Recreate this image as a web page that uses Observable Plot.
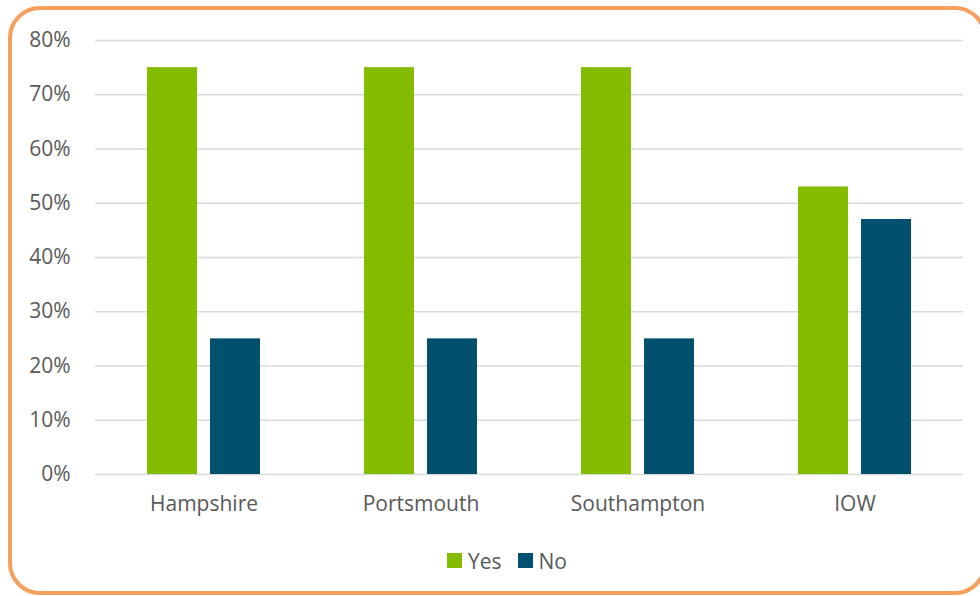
<!DOCTYPE html>
<html>
<head>
<meta charset="utf-8">
<script src="https://cdn.jsdelivr.net/npm/d3@7"></script>
<script src="https://cdn.jsdelivr.net/npm/@observablehq/plot@0.6"></script>
<style>
  html, body { margin: 0; padding: 0; background: #fff; overflow: hidden; }
  #wrap { position: relative; width: 980px; height: 596px; font-family: "Open Sans", sans-serif; }
  #border { position: absolute; left: 8px; top: 6px; width: 979px; height: 589px; box-sizing: border-box;
            border: 4px solid #F79F5C; border-radius: 32px; pointer-events: none; }
  #legend { position: absolute; left: 447px; top: 544px; }
  .lg-swatch > svg { margin-right: 6px !important; }
  .lg-swatch { margin-right: 16px !important; }
</style>
</head>
<body>
<div id="wrap"><div id="chart"></div><div id="legend"></div><div id="border"></div></div>
<script>
const categories = ["Hampshire", "Portsmouth", "Southampton", "IOW"];
const seriesNames = ["Yes", "No"];
const yesValues = [75, 75, 75, 53];
const noValues = [25, 25, 25, 47];
const yTicks = [0, 10, 20, 30, 40, 50, 60, 70, 80];
const seriesColors = ["#84BD00", "#00506E"];

const data = categories.flatMap((c, i) => [
  {category: c, series: "Yes", value: yesValues[i]},
  {category: c, series: "No", value: noValues[i]}
]);

const textColor = "#595959";

const plot = Plot.plot({
  width: 980,
  height: 530,
  marginTop: 40,
  marginBottom: 56,
  marginLeft: 94,
  marginRight: 17,
  style: {fontFamily: "Open Sans, sans-serif", fontSize: "21px", color: textColor, background: "transparent"},
  fx: {domain: categories, padding: 0, label: null, axis: null},
  x: {domain: seriesNames, paddingInner: 0.2, paddingOuter: 0.82, axis: null},
  y: {domain: [0, 80], label: null, ticks: yTicks},
  color: {domain: seriesNames, range: seriesColors},
  marks: [
    Plot.gridY(yTicks, {stroke: "#D9D9D9", strokeOpacity: 1, strokeWidth: 1.5}),
    Plot.axisY(yTicks, {tickSize: 0, tickPadding: 25, tickFormat: d => d + "%", fill: textColor, fontSize: 21, label: null}),
    Plot.axisFx({anchor: "bottom", tickSize: 0, tickPadding: 22, fill: textColor, fontSize: 21, label: null}),
    Plot.barY(data, {fx: "category", x: "series", y: "value", fill: "series"})
  ]
});
document.getElementById("chart").appendChild(plot);

const legend = plot.legend("color", {
  swatchSize: 15,
  className: "lg",
  style: {fontFamily: "Open Sans, sans-serif", fontSize: "21px", color: textColor}
});
document.getElementById("legend").appendChild(legend);
</script>
</body>
</html>
